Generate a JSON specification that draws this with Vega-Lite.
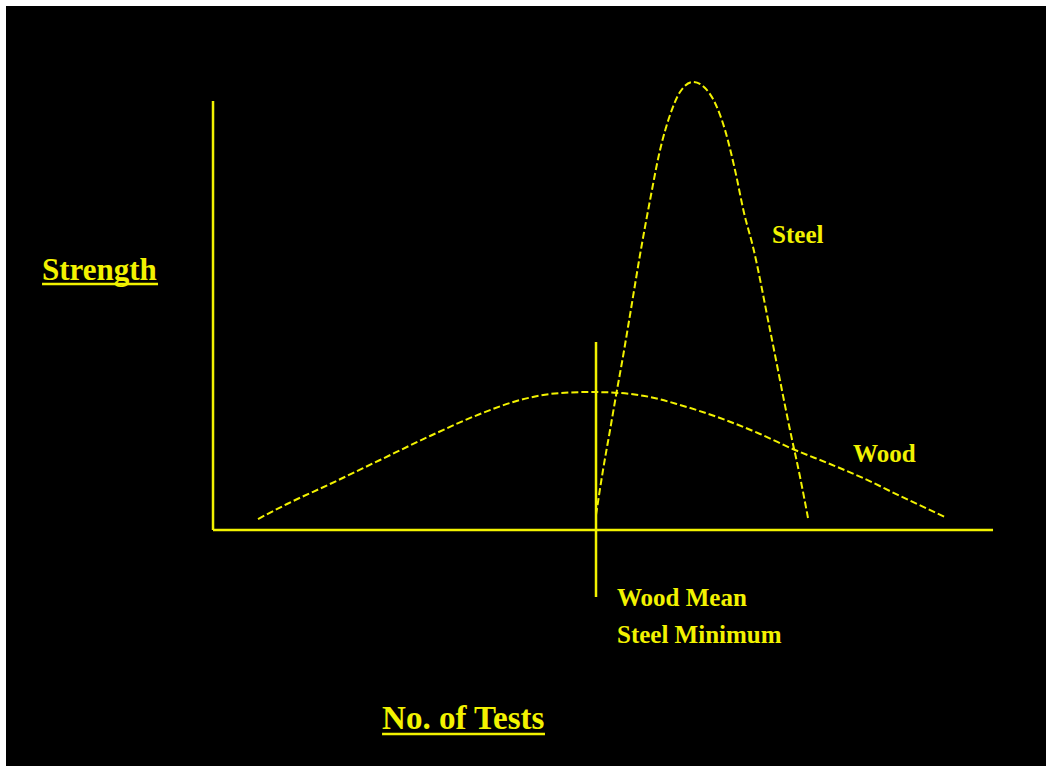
{
  "$schema": "https://vega.github.io/schema/vega-lite/v6.json",
  "width": 1040,
  "height": 760,
  "autosize": {"type": "none"},
  "padding": {"left": 6, "top": 6, "right": 0, "bottom": 0},
  "background": "#ffffff",
  "view": {"fill": "#000000", "stroke": null},
  "config": {"axis": {"disable": true}},
  "datasets": {
    "curves": [
      {"series": "Wood", "x": 5.77, "y": 2.56},
      {"series": "Wood", "x": 9.49, "y": 6.06},
      {"series": "Wood", "x": 15.0, "y": 10.72},
      {"series": "Wood", "x": 21.41, "y": 16.32},
      {"series": "Wood", "x": 27.82, "y": 21.91},
      {"series": "Wood", "x": 34.23, "y": 27.04},
      {"series": "Wood", "x": 39.36, "y": 30.3},
      {"series": "Wood", "x": 44.49, "y": 31.93},
      {"series": "Wood", "x": 48.33, "y": 32.17},
      {"series": "Wood", "x": 52.18, "y": 31.93},
      {"series": "Wood", "x": 56.03, "y": 31.0},
      {"series": "Wood", "x": 59.87, "y": 29.14},
      {"series": "Wood", "x": 65.0, "y": 26.11},
      {"series": "Wood", "x": 70.13, "y": 22.38},
      {"series": "Wood", "x": 74.62, "y": 18.65},
      {"series": "Wood", "x": 79.1, "y": 15.38},
      {"series": "Wood", "x": 83.33, "y": 12.12},
      {"series": "Wood", "x": 88.08, "y": 7.93},
      {"series": "Wood", "x": 93.85, "y": 3.03},
      {"series": "Steel", "x": 49.1, "y": 3.5},
      {"series": "Steel", "x": 50.0, "y": 13.99},
      {"series": "Steel", "x": 50.9, "y": 23.31},
      {"series": "Steel", "x": 51.79, "y": 32.63},
      {"series": "Steel", "x": 52.44, "y": 39.16},
      {"series": "Steel", "x": 53.46, "y": 50.12},
      {"series": "Steel", "x": 54.74, "y": 64.1},
      {"series": "Steel", "x": 56.03, "y": 76.92},
      {"series": "Steel", "x": 57.31, "y": 88.58},
      {"series": "Steel", "x": 58.59, "y": 96.74},
      {"series": "Steel", "x": 59.87, "y": 102.1},
      {"series": "Steel", "x": 61.54, "y": 104.43},
      {"series": "Steel", "x": 63.08, "y": 103.03},
      {"series": "Steel", "x": 64.36, "y": 99.53},
      {"series": "Steel", "x": 65.64, "y": 93.24},
      {"series": "Steel", "x": 66.92, "y": 83.92},
      {"series": "Steel", "x": 68.08, "y": 73.89},
      {"series": "Steel", "x": 69.23, "y": 65.97},
      {"series": "Steel", "x": 71.41, "y": 46.62},
      {"series": "Steel", "x": 73.97, "y": 23.31},
      {"series": "Steel", "x": 75.26, "y": 12.35},
      {"series": "Steel", "x": 76.28, "y": 2.8}
    ],
    "rules": [
      {"name": "y axis", "x": 0, "x2": 0, "y": 0, "y2": 100},
      {"name": "x axis", "x": 0, "x2": 100, "y": 0, "y2": 0},
      {"name": "wood mean", "x": 49.1, "x2": 49.1, "y": 43.82, "y2": -15.62}
    ],
    "underlines": [
      {"name": "Strength", "x": -21.92, "x2": -7.05, "y": 57.34},
      {"name": "No. of Tests", "x": 21.67, "x2": 42.56, "y": -47.55}
    ],
    "ytitle": [
      {"text": "Strength", "x": -21.92, "y": 58.28}
    ],
    "xtitle": [
      {"text": "No. of Tests", "x": 21.67, "y": -46.39}
    ],
    "labels": [
      {"text": "Wood Mean", "x": 51.79, "y": -17.72},
      {"text": "Steel Minimum", "x": 51.79, "y": -26.34},
      {"text": "Steel", "x": 71.67, "y": 66.9},
      {"text": "Wood", "x": 82.05, "y": 15.85}
    ]
  },
  "layer": [
    {
      "data": {"name": "rules"},
      "mark": {"type": "rule", "color": "#f2f200", "strokeWidth": 2.5},
      "encoding": {
        "x": {"field": "x", "type": "quantitative", "scale": {"domain": [-26.54, 106.79], "nice": false, "zero": false}},
        "x2": {"field": "x2"},
        "y": {"field": "y", "type": "quantitative", "scale": {"domain": [-55.01, 122.14], "nice": false, "zero": false}},
        "y2": {"field": "y2"}
      }
    },
    {
      "data": {"name": "underlines"},
      "mark": {"type": "rule", "color": "#f2f200", "strokeWidth": 2.5},
      "encoding": {
        "x": {"field": "x", "type": "quantitative"},
        "x2": {"field": "x2"},
        "y": {"field": "y", "type": "quantitative"}
      }
    },
    {
      "data": {"name": "curves"},
      "mark": {"type": "line", "color": "#f2f200", "strokeWidth": 2, "strokeDash": [7, 3], "interpolate": "monotone"},
      "encoding": {
        "x": {"field": "x", "type": "quantitative"},
        "y": {"field": "y", "type": "quantitative"},
        "detail": {"field": "series"}
      }
    },
    {
      "data": {"name": "ytitle"},
      "mark": {"type": "text", "color": "#f2f200", "font": "Liberation Serif", "fontWeight": "bold", "fontSize": 31, "align": "left", "baseline": "alphabetic"},
      "encoding": {
        "x": {"field": "x", "type": "quantitative"},
        "y": {"field": "y", "type": "quantitative"},
        "text": {"field": "text"}
      }
    },
    {
      "data": {"name": "xtitle"},
      "mark": {"type": "text", "color": "#f2f200", "font": "Liberation Serif", "fontWeight": "bold", "fontSize": 33, "align": "left", "baseline": "alphabetic"},
      "encoding": {
        "x": {"field": "x", "type": "quantitative"},
        "y": {"field": "y", "type": "quantitative"},
        "text": {"field": "text"}
      }
    },
    {
      "data": {"name": "labels"},
      "mark": {"type": "text", "color": "#f2f200", "font": "Liberation Serif", "fontWeight": "bold", "fontSize": 25, "align": "left", "baseline": "alphabetic"},
      "encoding": {
        "x": {"field": "x", "type": "quantitative"},
        "y": {"field": "y", "type": "quantitative"},
        "text": {"field": "text"}
      }
    }
  ]
}
